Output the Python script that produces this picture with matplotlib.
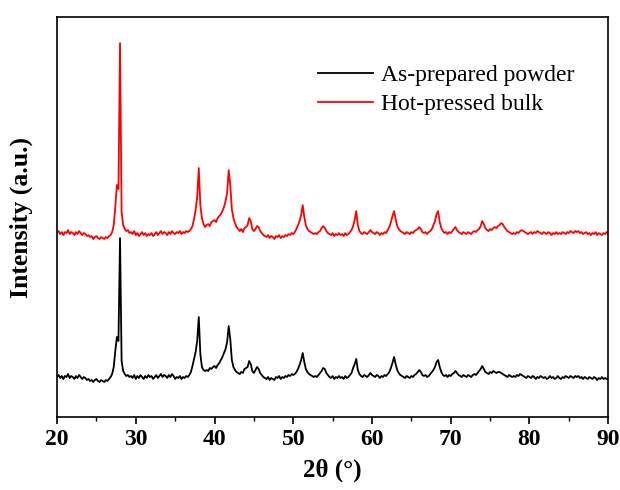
import numpy as np
import matplotlib.pyplot as plt
from matplotlib.ticker import MultipleLocator

# 2theta grid, 0.2 deg steps from 20 to 90
two_theta = np.round(np.arange(20, 90.001, 0.2), 1)

# hot-pressed bulk (offset pattern)
hot_pressed = [
    184, 186, 183, 185, 182, 185, 184, 187, 183, 185,  # 20
    184, 182, 185, 183, 186, 184, 182, 184, 183, 181,  # 22
    182, 180, 181, 178, 180, 181, 179, 178, 180, 179,  # 24
    178, 180, 179, 181, 182, 185, 192, 210, 232, 228,  # 26
    374, 205, 192, 188, 186, 187, 184, 185, 183, 186,  # 28
    182, 184, 181, 183, 185, 182, 184, 181, 183, 182,  # 30
    184, 181, 183, 185, 182, 184, 186, 183, 185, 184,  # 32
    182, 185, 183, 186, 184, 183, 185, 184, 186, 183,  # 34
    185, 184, 186, 185, 186, 188, 191, 198, 207, 220,  # 36
    249, 212, 199, 193, 190, 192, 193, 191, 195, 196,  # 38
    197, 195, 199, 201, 203, 206, 210, 216, 224, 247,  # 40
    232, 208, 199, 194, 190, 188, 186, 188, 185, 189,  # 42
    190, 192, 199, 196, 188, 186, 188, 191, 190, 186,  # 44
    184, 182, 181, 180, 182, 179, 181, 180, 178, 181,  # 46
    180, 182, 179, 181, 180, 182, 181, 183, 182, 184,  # 48
    183, 185, 188, 192, 196, 202, 212, 200, 192, 188,  # 50
    186, 185, 184, 183, 184, 183, 185, 186, 189, 191,  # 52
    189, 186, 184, 183, 182, 184, 181, 183, 182, 184,  # 54
    182, 183, 181, 184, 182, 183, 185, 187, 191, 197,  # 56
    206, 192, 186, 184, 183, 185, 184, 183, 185, 187,  # 58
    185, 184, 183, 185, 184, 182, 184, 183, 185, 184,  # 60
    187, 190, 195, 201, 206, 198, 191, 188, 186, 185,  # 62
    184, 183, 185, 184, 183, 185, 184, 186, 187, 188,  # 64
    190, 188, 185, 184, 185, 183, 185, 186, 188, 192,  # 66
    196, 203, 206, 195, 189, 186, 184, 185, 183, 185,  # 68
    184, 186, 188, 190, 187, 185, 184, 183, 185, 184,  # 70
    183, 185, 184, 183, 185, 186, 185, 187, 188, 191,  # 72
    196, 193, 189, 187, 186, 188, 187, 189, 190, 189,  # 74
    191, 192, 194, 193, 190, 188, 186, 185, 184, 183,  # 76
    184, 183, 185, 184, 186, 187, 186, 185, 184, 183,  # 78
    184, 185, 183, 185, 184, 186, 185, 184, 183, 185,  # 80
    184, 183, 185, 184, 182, 184, 183, 185, 183, 184,  # 82
    183, 185, 184, 183, 185, 184, 186, 185, 184, 186,  # 84
    185, 186, 184, 185, 183, 184, 185, 183, 184, 182,  # 86
    184, 183, 185, 182, 184, 183, 182, 184, 183, 185,  # 88
    183,
]

# as-prepared powder
as_prepared = [
    40, 42, 39, 41, 38, 41, 40, 43, 39, 41,  # 20
    40, 38, 41, 39, 42, 40, 38, 40, 39, 37,  # 22
    38, 36, 37, 35, 37, 38, 36, 35, 37, 36,  # 24
    35, 37, 36, 38, 40, 43, 50, 66, 80, 76,  # 26
    179, 56, 46, 43, 41, 42, 40, 41, 39, 42,  # 28
    38, 41, 39, 42, 40, 38, 41, 39, 42, 40,  # 30
    41, 38, 40, 42, 39, 41, 43, 40, 42, 41,  # 32
    39, 42, 40, 43, 41, 38, 40, 39, 41, 38,  # 34
    40, 39, 41, 40, 42, 45, 51, 58, 65, 76,  # 36
    100, 63, 50, 47, 46, 47, 46, 49, 48, 50,  # 38
    51, 49, 52, 54, 57, 60, 64, 68, 75, 91,  # 40
    78, 57, 50, 47, 45, 44, 43, 45, 44, 48,  # 42
    49, 50, 56, 53, 46, 44, 47, 50, 48, 44,  # 44
    42, 40, 39, 38, 40, 37, 39, 38, 37, 40,  # 46
    39, 41, 38, 40, 39, 41, 40, 42, 41, 43,  # 48
    42, 43, 45, 48, 52, 57, 64, 55, 48, 45,  # 50
    43, 42, 41, 40, 41, 40, 42, 44, 46, 49,  # 52
    48, 44, 42, 40, 39, 41, 38, 40, 39, 41,  # 54
    39, 40, 38, 41, 39, 40, 42, 44, 49, 53,  # 56
    58, 47, 43, 41, 40, 42, 41, 40, 42, 44,  # 58
    42, 41, 40, 42, 41, 39, 41, 40, 42, 41,  # 60
    43, 45, 49, 54, 60, 53, 47, 44, 42, 41,  # 62
    40, 39, 41, 40, 39, 41, 40, 42, 43, 45,  # 64
    47, 45, 42, 41, 42, 40, 41, 43, 45, 47,  # 66
    50, 55, 57, 50, 45, 42, 41, 42, 40, 42,  # 68
    41, 43, 44, 46, 44, 42, 41, 40, 42, 41,  # 70
    40, 42, 41, 40, 42, 43, 42, 44, 46, 48,  # 72
    51, 48, 45, 44, 43, 45, 44, 46, 45, 44,  # 74
    45, 45, 44, 43, 42, 41, 40, 42, 41, 40,  # 76
    41, 40, 42, 41, 43, 42, 41, 40, 39, 41,  # 78
    40, 39, 41, 40, 38, 40, 39, 41, 40, 39,  # 80
    40, 38, 39, 41, 39, 40, 38, 39, 41, 39,  # 82
    38, 40, 39, 41, 40, 39, 41, 40, 39, 41,  # 84
    40, 41, 39, 40, 38, 40, 39, 38, 40, 39,  # 86
    38, 40, 39, 37, 39, 38, 40, 38, 39, 38,  # 88
    39,
]

plt.rcParams['font.family'] = 'Liberation Serif'

fig = plt.figure(figsize=(6.2, 4.9), dpi=100)
ax = fig.add_axes([0.092, 0.149, 0.889, 0.816])

ax.plot(two_theta, as_prepared, color='black', lw=1.3, label='As-prepared powder')
ax.plot(two_theta, hot_pressed, color='red', lw=1.3, label='Hot-pressed bulk')

ax.set_xlim(20, 90)
ax.set_ylim(0, 400)
ax.xaxis.set_major_locator(MultipleLocator(10))
ax.xaxis.set_minor_locator(MultipleLocator(5))
ax.tick_params(axis='x', which='major', direction='out', length=5, width=1.2,
               labelsize=17)
ax.tick_params(axis='x', which='minor', direction='out', length=3, width=1.0)
ax.set_yticks([])
for lab in ax.get_xticklabels():
    lab.set_fontweight('bold')
for s in ax.spines.values():
    s.set_linewidth(1.2)

ax.set_xlabel('2θ (°)', fontsize=18, fontweight='bold', labelpad=6)
ax.set_ylabel('Intensity (a.u.)', fontsize=18.5, fontweight='bold', labelpad=17)

ax.legend(loc='upper left', bbox_to_anchor=(0.474, 0.882), frameon=False,
          fontsize=17, handlelength=2.3, handletextpad=0.35, labelspacing=0.33,
          borderpad=0, borderaxespad=0)

fig.savefig('out.png', dpi=100)
